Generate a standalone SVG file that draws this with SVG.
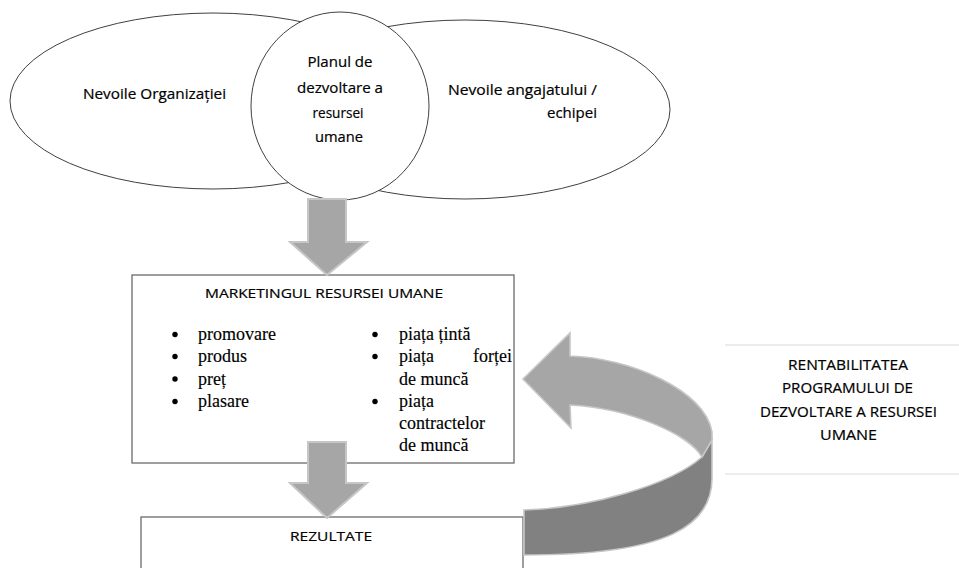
<svg xmlns="http://www.w3.org/2000/svg" width="959" height="568" viewBox="0 0 959 568">
  <style>
    .shape { fill: #ffffff; stroke: #404040; stroke-width: 1; }
    .box { fill: #ffffff; stroke: #6b6b6b; stroke-width: 1.3; }
    .sans { font-family: "Open Sans", Lato, "Liberation Sans", sans-serif; font-size: 14px; fill: #000000; stroke: #000000; stroke-width: 0.2; }
    .caps { font-family: "Open Sans", Lato, "Liberation Sans", sans-serif; font-size: 13.5px; fill: #000000; stroke: #000000; stroke-width: 0.2; }
    .side { font-family: "Open Sans", Lato, "Liberation Sans", sans-serif; font-size: 14px; fill: #000000; stroke: #000000; stroke-width: 0.2; }
    .serif { font-family: "Liberation Serif", "Times New Roman", serif; font-size: 18px; fill: #000000; stroke: #000000; stroke-width: 0.15; }
    .flow { fill: #a6a6a6; stroke: #c6c6c6; stroke-width: 2; stroke-linejoin: miter; }
    .ribbon-front { fill: #a6a6a6; stroke: #c6c6c6; stroke-width: 1.6; }
    .ribbon-back { fill: #818181; stroke: #c6c6c6; stroke-width: 1.6; }
    .rule { stroke: #dadada; stroke-width: 1.2; }
  </style>

  <!-- needs: organisation and employee/team -->
  <g id="nevoi-organizatie">
    <ellipse class="shape" cx="213" cy="101" rx="203" ry="88"/>
    <text class="sans" x="83" y="99" textLength="143" lengthAdjust="spacingAndGlyphs">Nevoile Organizației</text>
  </g>
  <g id="nevoi-angajat">
    <ellipse class="shape" cx="465" cy="109.5" rx="205" ry="89.5"/>
    <text class="sans" x="448" y="95" textLength="149" lengthAdjust="spacingAndGlyphs">Nevoile angajatului /</text>
    <text class="sans" x="547" y="118" textLength="50" lengthAdjust="spacingAndGlyphs">echipei</text>
  </g>
  <g id="plan-dezvoltare">
    <ellipse class="shape" cx="340" cy="106" rx="89" ry="94"/>
    <text class="sans" x="340" y="67" text-anchor="middle" textLength="65" lengthAdjust="spacingAndGlyphs">Planul de</text>
    <text class="sans" x="340" y="93" text-anchor="middle" textLength="86" lengthAdjust="spacingAndGlyphs">dezvoltare a</text>
    <text class="sans" x="338" y="118" text-anchor="middle" textLength="51" lengthAdjust="spacingAndGlyphs">resursei</text>
    <text class="sans" x="339" y="142" text-anchor="middle" textLength="48" lengthAdjust="spacingAndGlyphs">umane</text>
  </g>

  <!-- marketing box -->
  <g id="marketing">
    <rect class="box" x="132" y="275" width="382" height="188"/>
    <text class="caps" x="205" y="298" textLength="238" lengthAdjust="spacingAndGlyphs">MARKETINGUL RESURSEI UMANE</text>
    <g fill="#000000">
      <circle cx="175" cy="334.5" r="2.7"/>
      <circle cx="175" cy="356.5" r="2.7"/>
      <circle cx="175" cy="379" r="2.7"/>
      <circle cx="175" cy="401.5" r="2.7"/>
      <circle cx="375" cy="334.5" r="2.7"/>
      <circle cx="375" cy="356.5" r="2.7"/>
      <circle cx="375" cy="401.5" r="2.7"/>
    </g>
    <text class="serif" x="198" y="340">promovare</text>
    <text class="serif" x="198" y="362">produs</text>
    <text class="serif" x="198" y="385">preț</text>
    <text class="serif" x="198" y="407">plasare</text>
    <text class="serif" x="399" y="340">piața țintă</text>
    <text class="serif" x="399" y="362">piața</text>
    <text class="serif" x="512" y="362" text-anchor="end">forței</text>
    <text class="serif" x="399" y="385">de muncă</text>
    <text class="serif" x="399" y="407">piața</text>
    <text class="serif" x="399" y="429">contractelor</text>
    <text class="serif" x="399" y="451">de muncă</text>
  </g>

  <!-- results box -->
  <g id="rezultate">
    <rect class="box" x="141" y="517" width="382" height="70"/>
    <text class="caps" x="290" y="541" textLength="82" lengthAdjust="spacingAndGlyphs">REZULTATE</text>
  </g>

  <!-- profitability label between two rules -->
  <g id="rentabilitate">
    <line class="rule" x1="725" y1="345" x2="959" y2="345"/>
    <line class="rule" x1="725" y1="474" x2="959" y2="474"/>
    <text class="side" x="788" y="370" textLength="120" lengthAdjust="spacingAndGlyphs">RENTABILITATEA</text>
    <text class="side" x="782" y="393" textLength="131" lengthAdjust="spacingAndGlyphs">PROGRAMULUI DE</text>
    <text class="side" x="760" y="417" textLength="177" lengthAdjust="spacingAndGlyphs">DEZVOLTARE A RESURSEI</text>
    <text class="side" x="820" y="440" textLength="57" lengthAdjust="spacingAndGlyphs">UMANE</text>
  </g>

  <!-- connectors: block arrows -->
  <g id="connectors">
    <path class="flow" d="M308,199 H346 V242 H367 L327,275 L290,242 H308 Z"/>
    <path class="flow" d="M308,442 H346 V483 H367 L327,518 L290,483 H308 Z"/>
    <!-- curved feedback ribbon: back face, then front face with head -->
    <path class="ribbon-back" d="M524,510 C590,508 670,485 702,457 L712,440 L712,478 C712,525 670,555 524,555 Z"/>
    <path class="ribbon-front" d="M523,379 L570,333 L570,356 C630,358 705,390 712,432 L712,440 L702,457 C690,435 630,408 570,405 L571,428 Z"/>
  </g>
</svg>
